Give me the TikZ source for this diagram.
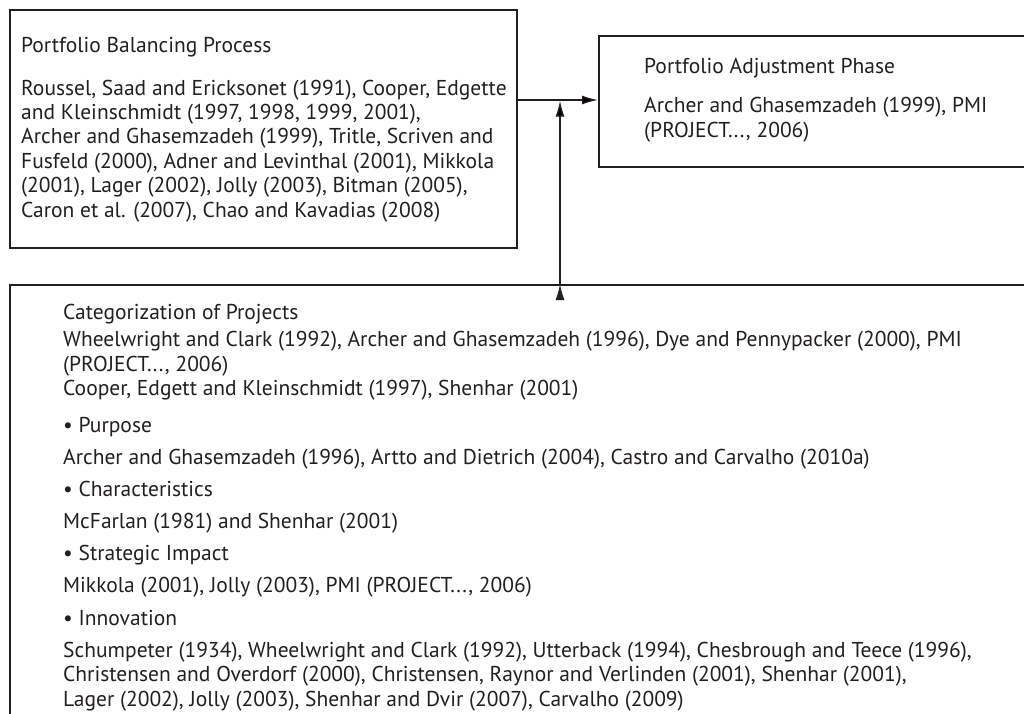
\documentclass[tikz,border=0pt]{standalone}
\usepackage{fontspec}
\setmainfont{PT Sans}
\usetikzlibrary{arrows.meta,positioning}

\definecolor{inkgray}{HTML}{231F20}

\tikzset{
    frame/.style={draw=inkgray, line width=1.5pt, inner sep=0pt, anchor=north west},
    % base = baseline of the last line of a text
    ref/.style={anchor=base west, align=left, inner sep=0pt, text=inkgray,
        font=\fontsize{21.5}{24.4}\selectfont},
    link/.style={-{Latex[length=16pt,width=9pt]}, line width=1.3pt, draw=inkgray},
}

\begin{document}
\begin{tikzpicture}[x=1pt,y=-1pt]
    \useasboundingbox (0,0) rectangle (1024,713);
    \clip (0,0) rectangle (1024,713);

    % the three boxes (right and bottom ones run off the page)
    \node[frame, minimum width=507pt, minimum height=238pt] (balance) at (9,9) {};
    \node[frame, minimum width=600pt, minimum height=131pt] (adjust) at (598,35) {};
    \node[frame, minimum width=1100pt, minimum height=600pt] (categ) at (9,284) {};

    \node[ref] (balhead) at (21,52) {Portfolio Balancing Process};
    \node[ref] (baltext) at (21,217) {Roussel, Saad and Ericksonet (1991), Cooper, Edgette\\
        and Kleinschmidt (1997, 1998, 1999, 2001),\\
        Archer and Ghasemzadeh (1999), Tritle, Scriven and\\
        Fusfeld (2000), Adner and Levinthal (2001), Mikkola\\
        (2001), Lager (2002), Jolly (2003), Bitman (2005),\\
        Caron et al. (2007), Chao and Kavadias (2008)};

    \node[ref] (adjhead) at (644,73) {Portfolio Adjustment Phase};
    \node[ref] (adjtext) at (644,137) {Archer and Ghasemzadeh (1999), PMI\\
        (PROJECT..., 2006)};

    \foreach \yy/\nm/\txt in {
        319/cathead/{Categorization of Projects},
        371/catwhe/{Wheelwright and Clark (1992), Archer and Ghasemzadeh (1996), Dye and Pennypacker (2000), PMI\\(PROJECT..., 2006)},
        395/catcoo/{Cooper, Edgett and Kleinschmidt (1997), Shenhar (2001)},
        432/purhead/{• Purpose},
        464/purtext/{Archer and Ghasemzadeh (1996), Artto and Dietrich (2004), Castro and Carvalho (2010a)},
        496/chahead/{• Characteristics},
        528/chatext/{McFarlan (1981) and Shenhar (2001)},
        560/strhead/{• Strategic Impact},
        592/strtext/{Mikkola (2001), Jolly (2003), PMI (PROJECT..., 2006)},
        625/innhead/{• Innovation},
        706/inntext/{Schumpeter (1934), Wheelwright and Clark (1992), Utterback (1994), Chesbrough and Teece (1996),\\
            Christensen and Overdorf (2000), Christensen, Raynor and Verlinden (2001), Shenhar (2001),\\
            Lager (2002), Jolly (2003), Shenhar and Dvir (2007), Carvalho (2009)}}
        \node[ref] (\nm) at (63,\yy) {\txt};

    % both flows meet at the same point
    \coordinate (junc) at (560,100);
    \path[link]
        (balance.east |- junc) edge (adjust.west |- junc)
        (categ.north -| junc) edge ([yshift=-0.7pt]junc);
\end{tikzpicture}
\end{document}
